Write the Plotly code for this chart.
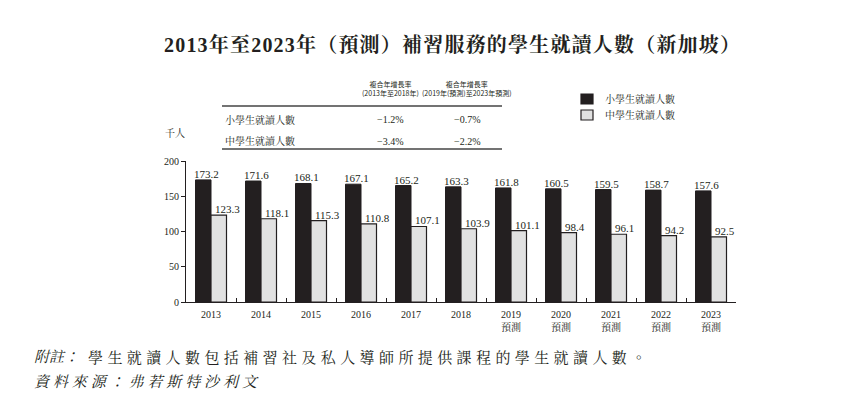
import plotly.graph_objects as go

years = ["2013", "2014", "2015", "2016", "2017", "2018", "2019", "2020", "2021", "2022", "2023"]
tick_labels = ["2013", "2014", "2015", "2016", "2017", "2018",
               "2019<br>預測", "2020<br>預測", "2021<br>預測", "2022<br>預測", "2023<br>預測"]
primary = [173.2, 171.6, 168.1, 167.1, 165.2, 163.3, 161.8, 160.5, 159.5, 158.7, 157.6]
secondary = [123.3, 118.1, 115.3, 110.8, 107.1, 103.9, 101.1, 98.4, 96.1, 94.2, 92.5]
series_names = ["小學生就讀人數", "中學生就讀人數"]
cagr_headers = ["複合年增長率<br>(2013年至2018年)", "複合年增長率<br>(2019年(預測)至2023年預測)"]
cagr_primary = ["−1.2%", "−0.7%"]
cagr_secondary = ["−3.4%", "−2.2%"]

title_text = "2013年至2023年（預測）補習服務的學生就讀人數（新加坡）"
unit_text = "千人"
note_label = "附註："
note_text = "學生就讀人數包括補習社及私人導師所提供課程的學生就讀人數。"
source_text = "資料來源：弗若斯特沙利文"

W, H = 862, 404
L, R, T, B = 186, 736, 161, 302
SERIF = "Liberation Serif, Noto Serif CJK TC, Noto Sans CJK TC"
INK = "#231f20"
GRAY = "#e1e1e1"


def px(x):
    return (x - L) / (R - L)


def py(y):
    return (B - y) / (B - T)


fig = go.Figure()
fig.add_trace(go.Bar(
    x=years, y=primary, name=series_names[0],
    marker=dict(color=INK, line=dict(color=INK, width=1)), showlegend=False,
))
fig.add_trace(go.Bar(
    x=years, y=secondary, name=series_names[1],
    marker=dict(color=GRAY, line=dict(color=INK, width=1.2)), showlegend=False,
))

annotations = []
shapes = []

# value labels (data coordinates through the axes; category index positions)
for i, v in enumerate(primary):
    annotations.append(dict(text=f"{v:.1f}", x=i, y=v, xref="x", yref="y",
                            showarrow=False, xanchor="center", yanchor="bottom",
                            xshift=-4.5, yshift=-2,
                            font=dict(family=SERIF, size=11, color=INK)))
for i, v in enumerate(secondary):
    annotations.append(dict(text=f"{v:.1f}", x=i, y=v, xref="x", yref="y",
                            showarrow=False, xanchor="left", yanchor="bottom",
                            xshift=1.5, yshift=-2,
                            font=dict(family=SERIF, size=11, color=INK)))

page = []

# title
page.append(dict(
    text=f'<b><span style="letter-spacing:1.2px">{title_text}</span></b>',
    x=162, y=45, showarrow=False,
    font=dict(family=SERIF, size=20, color=INK), xanchor="left", yanchor="middle"))

# table headers
for hx, htxt in zip([390, 467], cagr_headers):
    page.append(dict(
        text=htxt, x=hx, y=88, showarrow=False,
        font=dict(family="Noto Sans CJK TC", size=7, color=INK),
        xanchor="center", yanchor="middle"))

# table lines
for ly in [106, 149]:
    shapes.append(dict(type="line", xref="paper", yref="paper",
                       x0=px(222), x1=px(502), y0=py(ly), y1=py(ly),
                       line=dict(color="#444444", width=1.5)))

# table rows
for ry, rlabel, vals in [(120, series_names[0], cagr_primary), (141, series_names[1], cagr_secondary)]:
    page.append(dict(text=rlabel, x=223, y=ry, showarrow=False,
                     font=dict(family=SERIF, size=10, color=INK),
                     xanchor="left", yanchor="middle"))
    for vx, v in zip([390, 467], vals):
        page.append(dict(text=v, x=vx, y=ry, showarrow=False,
                         font=dict(family=SERIF, size=10, color=INK),
                         xanchor="center", yanchor="middle"))

# legend (manual, to match compact spacing)
for ly, name, col in [(99, series_names[0], INK), (115, series_names[1], GRAY)]:
    shapes.append(dict(type="rect", xref="paper", yref="paper",
                       x0=px(581), x1=px(593), y0=py(ly - 5), y1=py(ly + 5),
                       fillcolor=col, line=dict(color=INK, width=1.2)))
    page.append(dict(text=name, x=603, y=ly, showarrow=False,
                     font=dict(family=SERIF, size=10, color=INK),
                     xanchor="left", yanchor="middle"))

# unit
page.append(dict(text=unit_text, x=175, y=133, showarrow=False,
                 font=dict(family=SERIF, size=10, color=INK),
                 xanchor="center", yanchor="middle"))

# footnotes
page.append(dict(text=f"<i>{note_label}</i>", x=32, y=357, showarrow=False,
                 font=dict(family=SERIF, size=15, color=INK),
                 xanchor="left", yanchor="middle"))
page.append(dict(text=f'<span style="letter-spacing:4.4px">{note_text}</span>',
                 x=86, y=357, showarrow=False,
                 font=dict(family=SERIF, size=15, color=INK),
                 xanchor="left", yanchor="middle"))
page.append(dict(text=f'<i><span style="letter-spacing:3.9px">{source_text}</span></i>',
                 x=32, y=382, showarrow=False,
                 font=dict(family=SERIF, size=15, color=INK),
                 xanchor="left", yanchor="middle"))

# convert pixel positions to paper coords
for a in page:
    a["xref"] = "paper"
    a["yref"] = "paper"
    a["x"] = px(a["x"])
    a["y"] = py(a["y"])
annotations.extend(page)

fig.update_layout(
    width=W, height=H, autosize=False,
    margin=dict(l=L, r=W - R, t=T, b=H - B, pad=0, autoexpand=False),
    paper_bgcolor="white", plot_bgcolor="white",
    barmode="group", bargap=0.38, bargroupgap=0,
    font=dict(family=SERIF, color=INK, size=10),
    showlegend=False,
    annotations=annotations, shapes=shapes,
    xaxis=dict(type="category", tickvals=years, ticktext=tick_labels,
               showline=True, linecolor=INK, linewidth=1.2,
               ticks="inside", tickson="boundaries", ticklen=4, tickcolor=INK,
               showgrid=False, tickfont=dict(family=SERIF, size=10, color=INK),
               ticklabelstandoff=3,
               range=[-0.5, 10.5], fixedrange=True, automargin=False),
    yaxis=dict(range=[0, 200], tickvals=[0, 50, 100, 150, 200],
               showline=True, linecolor=INK, linewidth=1.2,
               ticks="outside", ticklen=4, tickcolor=INK,
               showgrid=False, zeroline=False, automargin=False,
               tickfont=dict(family=SERIF, size=10, color=INK), fixedrange=True),
)

fig.write_html("out.html", config={"displayModeBar": False},
               post_script="document.body.style.margin='0';")
